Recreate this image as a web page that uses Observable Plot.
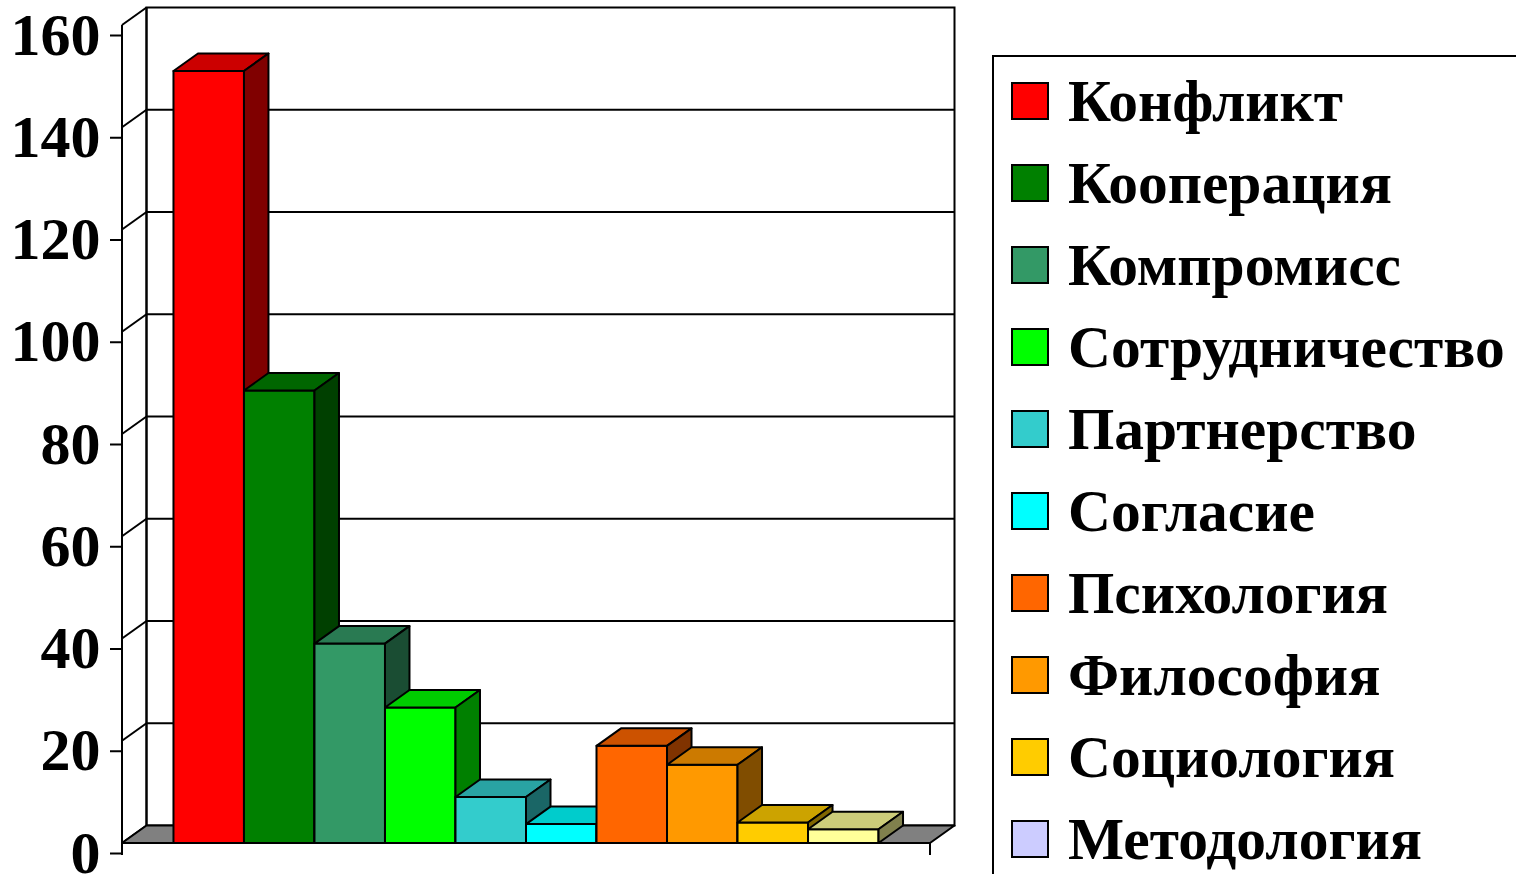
<!DOCTYPE html>
<html>
<head>
<meta charset="utf-8">
<script src="https://cdn.jsdelivr.net/npm/d3@7"></script>
<script src="https://cdn.jsdelivr.net/npm/@observablehq/plot@0.6"></script>
<style>
  html, body { margin: 0; padding: 0; background: #fff; overflow: hidden; width: 1516px; height: 874px; }
  #chart { position: absolute; left: 0; top: 0; }
  #legend {
    position: absolute; left: 992px; top: 55px; width: 640px; height: 900px;
    border: 2px solid #000; box-sizing: border-box; padding: 3px 0 0 17px;
    font-family: "Liberation Serif", "Times New Roman", serif; font-weight: bold; font-size: 59.5px;
  }
  .row { height: 82px; line-height: 82px; display: flex; align-items: center; white-space: nowrap; }
  .sw { width: 38px; height: 38px; box-sizing: border-box; border: 2px solid #000; margin-right: 19px; flex: none; }
</style>
</head>
<body>
<div id="chart"></div>
<div id="legend"></div>
<script>
const categories = ["Конфликт", "Кооперация", "Компромисс", "Сотрудничество", "Партнерство", "Согласие", "Психология", "Философия", "Социология", "Методология"];
const values = [151, 88.5, 39, 26.5, 9, 3.7, 19, 15.3, 4, 2.7];
const barColors = ["#FF0000", "#008000", "#339966", "#00FF00", "#33CCCC", "#00FFFF", "#FF6600", "#FF9900", "#FFCC00", "#FFFF99"];
const legendColors = ["#FF0000", "#008000", "#339966", "#00FF00", "#33CCCC", "#00FFFF", "#FF6600", "#FF9900", "#FFCC00", "#CCCCFF"];
const yTicks = [0, 20, 40, 60, 80, 100, 120, 140, 160];

const data = categories.map((c, i) => ({category: c, value: values[i], color: barColors[i]}));

const DX = 24.5, DY = -17.5;
const shade = (c, k) => { const r = d3.rgb(c); return d3.rgb(r.r * k, r.g * k, r.b * k).formatHex(); };
const NS = "http://www.w3.org/2000/svg";
function el(name, attrs) {
  const e = document.createElementNS(NS, name);
  for (const k in attrs) e.setAttribute(k, attrs[k]);
  return e;
}
const poly = pts => pts.map(p => p.join(",")).join(" ");

// Walls, floor, grid (drawn behind bars)
function walls(index, scales) {
  const g = el("g", {});
  const [x0, x1] = scales.x.range();
  const y0 = scales.y(0), yTop = scales.y(160);
  g.appendChild(el("rect", {x: x0 + DX, y: yTop + DY, width: x1 - x0, height: y0 - yTop, fill: "#fff", stroke: "#000", "stroke-width": 2}));
  for (const t of yTicks) {
    const y = scales.y(t);
    if (t > 0 && t < 160) g.appendChild(el("line", {x1: x0 + DX, x2: x1 + DX, y1: y + DY, y2: y + DY, stroke: "#000", "stroke-width": 2}));
    g.appendChild(el("line", {x1: x0, x2: x0 + DX, y1: y, y2: y + DY, stroke: "#000", "stroke-width": 2}));
  }
  g.appendChild(el("polygon", {points: poly([[x0, y0], [x1, y0], [x1 + DX, y0 + DY], [x0 + DX, y0 + DY]]), fill: "#808080", stroke: "#000", "stroke-width": 2, "stroke-linejoin": "round"}));
  return g;
}

// 3D bars
function bars(index, scales) {
  const g = el("g", {});
  const bw = typeof scales.x.bandwidth === "function" ? scales.x.bandwidth() : scales.x.bandwidth;
  const y0 = scales.y(0);
  for (const d of data) {
    const L = scales.x(d.category), R = L + bw, T = scales.y(d.value);
    const common = {stroke: "#000", "stroke-width": 2, "stroke-linejoin": "round"};
    g.appendChild(el("polygon", {points: poly([[L, y0], [R, y0], [R, T], [L, T]]), fill: d.color, ...common}));
    g.appendChild(el("polygon", {points: poly([[L, T], [R, T], [R + DX, T + DY], [L + DX, T + DY]]), fill: shade(d.color, 0.8), ...common}));
    g.appendChild(el("polygon", {points: poly([[R, y0], [R + DX, y0 + DY], [R + DX, T + DY], [R, T]]), fill: shade(d.color, 0.5), ...common}));
  }
  return g;
}

// axis frame lines (front)
function frame(index, scales) {
  const g = el("g", {});
  const [x0, x1] = scales.x.range();
  const y0 = scales.y(0), yTop = scales.y(160);
  g.appendChild(el("line", {x1: x0, x2: x0, y1: yTop, y2: y0 + 12, stroke: "#000", "stroke-width": 2}));
  g.appendChild(el("line", {x1: x0 + DX, x2: x0 + DX, y1: yTop + DY, y2: y0 + DY, stroke: "#000", "stroke-width": 2}));
  g.appendChild(el("line", {x1: x0, x2: x1, y1: y0, y2: y0, stroke: "#000", "stroke-width": 2}));
  g.appendChild(el("line", {x1: x1, x2: x1, y1: y0, y2: y0 + 12, stroke: "#000", "stroke-width": 2}));
  return g;
}

const chart = Plot.plot({
  width: 1516,
  height: 874,
  marginLeft: 122,
  marginRight: 586,
  marginTop: 25,
  marginBottom: 31,
  style: {fontFamily: "'Liberation Serif', 'Times New Roman', serif", fontWeight: "bold", fontSize: "60px", color: "#000", background: "#fff", overflow: "visible"},
  x: {type: "band", domain: categories, paddingInner: 0, paddingOuter: 0.73, round: false, axis: null},
  y: {domain: [0, 160], ticks: yTicks},
  marks: [
    walls,
    bars,
    frame,
    Plot.axisY(yTicks, {tickSize: 12, tickPadding: 10, dy: 10, stroke: "#000", strokeWidth: 2, fill: "#000", label: null, tickFormat: d => String(d)})
  ]
});
document.getElementById("chart").appendChild(chart);

const legend = document.getElementById("legend");
categories.forEach((c, i) => {
  const row = document.createElement("div");
  row.className = "row";
  const sw = document.createElement("div");
  sw.className = "sw";
  sw.style.background = legendColors[i];
  const tx = document.createElement("span");
  tx.textContent = c;
  row.appendChild(sw);
  row.appendChild(tx);
  legend.appendChild(row);
});
</script>
</body>
</html>
